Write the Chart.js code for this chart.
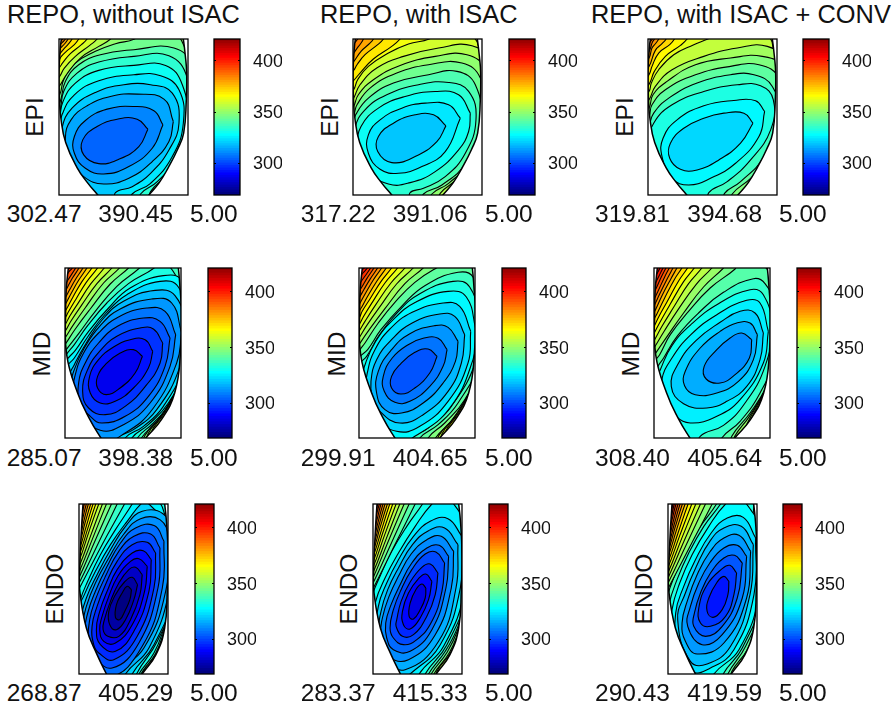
<!DOCTYPE html>
<html>
<head>
<meta charset="utf-8">
<style>
html, body { margin: 0; padding: 0; background: #fff; overflow: hidden; }
canvas { position: absolute; }
.t { position: absolute; font-family: "Liberation Sans", Arial, sans-serif; color: #111; line-height: 1; white-space: nowrap; }
</style>
<script src="https://cdn.jsdelivr.net/npm/chart.js@4"></script>
</head>
<body>
<script>
// text
const colTitles = ['REPO, without ISAC', 'REPO, with ISAC', 'REPO, with ISAC + CONV'];
const rowNames = ['EPI', 'MID', 'ENDO'];
const minVals = [302.47, 317.22, 319.81, 285.07, 299.91, 308.40, 268.87, 283.37, 290.43];
const maxVals = [390.45, 391.06, 394.68, 398.38, 404.65, 405.64, 405.29, 415.33, 419.59];
const stepVal = 5;

// colour bar
const barTicks = [300, 350, 400];
const barLevels = [268.5,270.9,273.3,275.6,278,280.4,282.8,285.2,287.6,289.9,292.3,294.7,297.1,299.5,301.9,304.2,306.6,309,311.4,313.8,316.2,318.5,320.9,323.3,325.7,328.1,330.5,332.8,335.2,337.6,340,342.4,344.8,347.1,349.5,351.9,354.3,356.7,359.1,361.4,363.8,366.2,368.6,371,373.4,375.7,378.1,380.5,382.9,385.3,387.7,390,392.4,394.8,397.2,399.6,402,404.3,406.7,409.1,411.5,413.9,416.3,418.6,421];

// contour lines, inner to outer: x,y,x,y...
const p1Low = [
 [442,388,410,358,350,358,290,380,247,420,250,465,295,491,355,478,415,440],
 [487,375,460,333,400,320,320,328,255,362,222,410,222,460,255,505,310,522,385,500,455,445],
 [518,365,490,298,410,283,330,290,260,318,212,360,195,415,208,475,250,530,310,552,385,535,455,485,505,425],
 [345,610,345,578,395,560,450,520,505,450,535,370,515,280,450,255,370,255,285,278,215,325,185,385,187,445,215,520,265,610],
 [385,610,395,582,450,550,515,470,548,370,535,270,480,228,400,225,295,243,222,285,185,345,178,390,180,450,220,600],
 [420,610,420,582,470,545,530,470,560,370,545,255,495,197,400,197,295,212,225,250,188,305,176,360,150,420,200,610],
 [445,610,450,575,500,520,570,380,560,235,505,168,400,170,295,187,230,220,190,275,178,335,150,380,200,620],
 [470,600,530,530,590,350,575,200,520,145,400,150,300,165,235,195,195,245,178,310,150,350,250,640],
 [640,400,600,200,557,150,540,118,520,90,430,90,402,118,345,132,285,155,225,190,190,240,178,285,150,320,250,650,520,660]
];
const p1High = [
 [338,100,330,118,295,140,240,175,198,225,178,258,150,290,100,40],
 [298,100,290,118,268,137,225,170,192,205,178,230,150,262,100,40],
 [268,100,260,118,243,135,210,162,188,188,176,205,150,235,100,40],
 [243,100,235,118,222,135,198,155,183,170,176,182,150,212,100,40],
 [222,100,215,118,205,132,190,148,176,165,150,195,100,40],
 [210,100,203,118,195,130,176,150,150,180,100,40],
 [202,100,195,118,186,128,172,140,150,165,100,40],
 [195,100,187,118,178,128,150,150,100,40]
];
const p2Low = [
 [452,378,415,345,360,345,295,370,250,410,248,455,290,488,360,470,425,425],
 [495,355,460,315,390,310,320,325,255,360,220,405,220,460,255,508,310,520,380,500,450,455],
 [525,340,490,285,420,275,330,290,250,325,198,380,190,435,215,510,280,552,345,548,420,515,490,450,520,395],
 [345,610,345,578,385,565,450,530,510,460,542,360,520,275,460,248,370,255,275,285,210,330,180,385,182,450,220,610],
 [380,610,385,582,440,555,510,490,555,370,540,255,485,215,400,225,295,250,220,295,182,345,174,375,150,450,200,620],
 [405,610,410,582,460,550,530,480,575,360,555,235,500,190,400,195,305,220,225,265,186,315,176,345,140,410,200,630],
 [430,610,435,580,490,530,590,350,570,210,515,165,420,170,315,197,235,240,190,285,176,320,140,375,220,640],
 [455,605,540,500,610,340,590,190,530,138,430,145,325,170,245,205,195,255,176,295,140,350,240,650],
 [640,400,600,180,555,150,540,118,500,95,430,95,402,118,340,133,280,160,220,200,188,240,176,270,140,320,250,660,520,660]
];
const p2High = [
 [325,100,315,118,290,140,235,178,195,220,178,240,150,270,100,40],
 [272,100,265,118,248,135,210,165,186,195,176,212,150,240,100,40],
 [240,100,235,118,222,133,198,155,176,186,150,215,100,40],
 [210,100,205,118,196,133,186,146,176,160,150,190,100,40],
 [195,100,188,118,180,128,172,138,150,165,100,40]
];
const p3Low = [
 [487,370,460,340,400,340,340,355,280,385,240,430,238,475,270,508,320,510,385,480,450,430],
 [522,335,495,303,430,302,340,318,260,360,218,415,215,470,245,535,295,555,360,535,435,490,505,410],
 [355,610,355,578,410,545,480,480,540,390,548,300,510,258,440,255,340,275,245,315,190,370,175,430,190,520,260,610],
 [402,610,402,580,450,545,520,470,565,350,545,260,490,225,420,225,320,250,235,295,190,340,176,380,155,440,200,620],
 [425,610,425,582,480,535,545,460,580,340,565,235,505,195,420,200,315,225,225,270,185,315,176,350,140,410,210,630],
 [445,600,510,520,595,330,580,205,515,170,420,175,315,195,230,245,188,285,176,325,130,390,230,640],
 [465,610,540,500,610,320,590,190,530,140,440,145,340,170,245,210,195,260,176,300,130,360,250,650],
 [640,400,595,200,553,165,540,118,500,95,400,95,352,118,310,135,250,165,205,210,183,250,176,275,130,330,250,660,520,660]
];
const p3High = [
 [298,100,290,118,270,137,225,170,192,215,178,250,150,285,100,40],
 [258,100,252,118,238,135,205,160,185,200,176,225,150,255,100,40],
 [232,100,227,118,215,132,195,152,176,200,150,230,100,40],
 [212,100,205,118,197,130,185,145,176,175,150,205,100,40],
 [198,100,192,118,186,128,176,155,150,185,100,40],
 [192,100,186,118,180,126,172,138,150,165,100,40]
];
const p4Low = [
 [427,290,400,270,360,280,318,312,292,350,292,385,318,405,360,385,405,340],
 [458,275,435,240,390,240,340,262,295,300,268,350,270,400,300,430,345,425,400,385,445,325],
 [488,250,460,208,420,205,350,230,298,275,262,330,247,395,265,445,315,465,375,440,440,375,480,310],
 [510,235,480,185,430,175,352,200,295,250,255,310,235,370,240,430,270,470,305,490,375,470,445,410,495,320],
 [527,225,495,155,440,145,355,172,295,220,250,280,225,345,220,395,245,460,300,512,370,495,450,430,510,320],
 [545,220,515,130,455,118,360,148,300,198,252,265,222,330,212,380,235,450,300,545,375,520,460,445,530,310],
 [340,570,350,535,400,510,470,450,540,320,555,205,525,108,465,92,370,125,308,178,258,250,222,315,205,355,210,480,280,570],
 [370,570,375,535,430,500,490,440,555,310,565,190,535,82,480,65,380,105,318,160,262,232,222,295,196,325,170,400,220,570],
 [390,570,395,535,445,495,505,430,570,300,575,170,545,62,490,48,390,85,325,145,265,215,225,272,196,305,170,360,230,570],
 [410,570,412,535,460,490,520,420,590,280,585,130,535,60,512,25,490,5,470,8,462,25,385,72,320,130,262,198,222,255,196,288,170,340,240,570]
];
const p4High = [
 [428,10,418,25,350,80,285,155,235,222,196,272,170,310,100,-40],
 [395,10,385,25,330,73,270,148,225,208,196,252,170,290,100,-40],
 [366,10,358,25,310,70,258,140,218,197,196,232,170,270,100,-40],
 [343,10,335,25,290,72,245,135,212,184,196,212,170,250,100,-40],
 [320,10,312,25,272,72,235,128,208,170,196,192,170,230,100,-40],
 [300,10,292,25,258,68,226,120,204,157,196,172,170,210,100,-40],
 [283,10,275,25,245,66,218,112,202,142,196,152,170,190,100,-40],
 [268,10,260,25,235,62,212,102,196,132,170,170,100,-40],
 [255,10,248,25,225,60,207,92,196,112,170,150,100,-40],
 [243,10,236,25,216,56,203,80,196,92,170,130,100,-40],
 [233,10,226,25,208,53,196,72,170,110,100,-40],
 [223,10,216,25,204,38,196,53,170,90,100,-40],
 [215,10,208,25,196,35,170,60,100,-40]
];
const p4Corner = [
 [420,560,424,535,470,485,520,410,560,290,620,600],
 [430,560,434,528,478,475,525,400,560,300,620,600],
 [440,560,444,522,485,468,528,395,560,310,620,600],
 [450,560,452,520,492,462,530,395,560,325,620,600]
];
const p5Low = [
 [427,290,400,268,360,278,318,312,290,350,290,385,318,403,360,385,405,340],
 [457,270,430,236,385,236,340,255,292,295,265,350,268,395,300,428,345,425,405,380,445,320],
 [490,245,460,203,420,198,345,222,290,270,250,335,245,400,270,450,320,460,385,430,445,370,482,305],
 [510,225,480,170,435,163,352,190,290,240,245,300,228,365,232,410,255,455,315,490,385,465,460,395,500,310],
 [528,215,495,140,445,130,352,158,285,208,240,270,218,335,214,390,240,470,305,515,375,500,460,425,520,310],
 [545,215,515,112,460,95,362,128,295,180,242,245,212,310,203,355,230,470,300,550,360,530,465,445,535,300],
 [350,570,352,535,400,505,470,440,545,300,555,190,525,82,475,65,375,102,308,158,252,228,215,290,194,312,165,370,210,490,285,570],
 [372,570,375,535,430,495,490,430,560,295,570,170,535,52,490,38,390,78,320,140,258,210,218,270,194,292,165,345,230,570],
 [398,570,400,535,450,490,510,420,575,285,590,150,560,10,480,0,425,25,360,68,300,128,250,190,210,250,194,272,170,320,230,570]
];
const p5High = [
 [395,10,385,25,330,72,270,147,225,207,194,252,170,290,100,-40],
 [363,10,355,25,305,73,255,141,215,198,194,232,170,270,100,-40],
 [338,10,330,25,288,70,243,134,210,185,194,212,170,250,100,-40],
 [316,10,308,25,270,70,232,128,206,170,194,192,170,230,100,-40],
 [298,10,290,25,258,66,225,118,202,154,194,172,170,210,100,-40],
 [282,10,274,25,246,64,218,110,200,143,194,152,170,190,100,-40],
 [268,10,260,25,235,61,212,100,194,132,170,170,100,-40],
 [256,10,248,25,225,59,206,91,194,112,170,150,100,-40],
 [245,10,237,25,216,56,202,80,194,92,170,130,100,-40],
 [235,10,227,25,208,52,194,72,170,110,100,-40],
 [225,10,217,25,204,40,194,52,170,90,100,-40],
 [216,10,208,25,194,35,170,60,100,-40]
];
const p5Corner = [
 [418,560,422,535,470,485,520,410,560,290,620,600],
 [428,560,432,528,476,475,523,400,560,300,620,600],
 [438,560,442,522,483,468,526,395,560,310,620,600],
 [448,560,450,520,490,462,528,395,560,325,620,600]
];
const p6Low = [
 [485,240,455,220,420,235,380,270,342,320,348,358,390,370,435,345,478,295],
 [502,225,480,190,440,190,390,215,330,265,285,335,283,378,315,405,380,400,445,365,490,300],
 [520,220,495,160,450,155,390,188,318,242,265,310,243,380,280,432,350,445,410,425,470,380,510,300],
 [535,215,510,130,470,122,380,165,302,225,245,295,214,362,218,430,250,465,300,490,380,470,450,420,520,310],
 [325,570,330,530,400,497,465,430,525,320,545,200,520,105,480,90,385,132,305,192,245,258,210,330,195,370,205,480,270,570],
 [390,570,395,535,450,485,510,400,555,290,560,150,525,72,490,57,400,98,325,160,262,228,220,295,195,340,205,470,230,570],
 [420,570,425,530,480,460,530,380,575,260,575,100,528,25,490,5,440,15,435,28,360,85,295,155,240,225,208,285,193,305,165,370,240,570]
];
const p6High = [
 [410,10,400,25,340,82,280,160,230,231,193,285,170,320,100,-40],
 [373,10,365,25,318,74,262,152,222,214,193,262,170,300,100,-40],
 [343,10,335,25,295,72,250,143,215,200,193,240,170,280,100,-40],
 [320,10,312,25,280,66,240,133,208,189,193,218,170,260,100,-40],
 [300,10,292,25,265,64,230,127,205,172,193,197,170,240,100,-40],
 [283,10,275,25,252,60,222,117,200,162,193,175,170,220,100,-40],
 [268,10,260,25,242,57,215,108,198,145,193,155,170,200,100,-40],
 [256,10,248,25,232,55,208,103,193,135,170,180,100,-40],
 [245,10,237,25,222,54,202,97,193,115,170,160,100,-40],
 [235,10,227,25,214,50,198,85,193,95,170,140,100,-40],
 [226,10,218,25,206,49,193,75,170,120,100,-40],
 [217,10,209,25,199,44,193,55,170,95,100,-40],
 [209,10,201,25,193,35,170,65,100,-40]
];
const p6Corner = [
 [430,560,434,530,478,470,525,390,560,300,620,600],
 [445,545,485,465,528,390,560,320,620,600],
 [455,545,492,460,530,390,560,340,620,600]
];
const p7Low = [
 [393,285,380,275,365,295,348,330,345,368,358,375,375,345,388,315],
 [411,270,395,248,372,262,345,300,325,350,328,390,348,405,375,375,400,315],
 [425,240,405,218,385,225,355,265,330,320,312,375,308,405,322,425,355,425,390,375,418,300],
 [440,215,415,192,390,200,352,245,325,305,305,365,298,405,310,440,345,445,395,390,432,290],
 [452,195,428,168,395,175,350,225,320,290,298,350,288,405,300,450,345,470,400,410,445,290],
 [465,175,440,143,395,150,350,200,315,270,290,335,275,395,280,450,295,475,340,495,410,425,460,280],
 [478,160,450,118,400,125,355,170,315,245,285,315,268,375,265,445,278,480,335,520,415,445,472,280],
 [490,140,462,93,405,100,360,145,320,215,285,290,262,355,252,420,265,470,330,545,425,455,485,280],
 [345,570,347,538,430,460,495,290,503,130,478,75,420,72,370,118,325,190,285,265,258,335,245,400,250,450,300,560],
 [372,570,375,538,445,460,505,290,515,120,488,58,425,50,375,95,330,165,290,240,258,310,238,385,240,430,290,570],
 [392,570,395,538,460,450,525,280,520,120,490,75,445,28,430,20,380,80,330,150,285,230,252,300,232,360,300,570],
 [405,570,408,538,470,440,535,270,530,110,497,70,480,28,450,5,400,15,395,28,345,105,300,180,262,260,240,315,225,380,310,570]
];
const p7High = [
 [380,10,372,28,305,150,238,279,215,320,150,-60],
 [358,10,350,28,294,145,238,262,215,305,150,-60],
 [341,10,333,28,285,136,238,245,215,290,150,-60],
 [326,10,318,28,278,128,238,228,215,270,150,-60],
 [314,10,306,28,272,120,238,211,215,255,150,-60],
 [303,10,295,28,266,110,238,194,215,240,150,-60],
 [294,10,286,28,262,102,238,177,215,220,150,-60],
 [286,10,278,28,258,94,238,160,215,205,150,-60],
 [279,10,271,28,254,85,238,143,215,190,150,-60],
 [272,10,264,28,251,77,238,126,215,170,150,-60],
 [266,10,258,28,248,68,238,109,215,150,150,-60],
 [260,10,252,28,245,60,238,92,215,135,150,-60],
 [255,10,247,28,242,50,238,75,215,115,150,-60],
 [251,10,243,28,236,58,215,95,150,-60],
 [248,10,240,28,234,41,215,70,150,-60]
];
const p7Corner = [
 [412,560,415,538,460,475,490,400,515,310,560,620],
 [418,560,421,538,464,478,492,405,515,330,560,620],
 [425,560,428,530,468,475,495,405,515,345,560,620],
 [430,550,436,535,472,472,497,410,515,360,560,620],
 [440,545,476,472,499,415,515,375,560,620],
 [450,545,480,468,501,420,515,390,560,620]
];
const p8Low = [
 [392,280,380,268,362,285,345,325,342,365,355,373,375,345,390,310],
 [410,260,392,238,370,252,340,295,322,350,325,390,345,403,375,370,400,315],
 [428,235,405,208,380,218,345,262,318,320,305,375,303,395,322,425,355,420,395,365,420,300],
 [448,205,422,172,390,178,350,225,318,285,295,345,285,400,295,430,325,450,365,435,410,380,440,290],
 [460,185,432,152,395,160,350,205,315,270,288,330,272,385,275,430,295,465,345,470,410,405,452,280],
 [475,170,438,125,395,135,348,178,310,245,282,305,262,370,258,420,282,485,340,495,420,420,468,280],
 [488,150,448,100,400,108,352,150,310,220,278,285,258,350,250,420,270,490,330,525,430,440,482,280],
 [500,125,458,72,405,80,355,125,310,195,275,265,250,335,245,430,300,570,345,538,435,450,495,280],
 [372,570,372,538,445,455,510,280,515,110,475,28,440,10,410,28,360,95,310,175,270,250,242,320,232,400,300,570],
 [388,570,390,538,455,450,520,280,530,100,495,55,490,28,460,5,390,10,382,28,335,95,290,170,255,245,230,310,225,380,300,570]
];
const p8High = [
 [368,10,360,28,297,155,234,282,210,325,150,-60],
 [350,10,342,28,288,147,234,266,210,310,150,-60],
 [335,10,327,28,280,139,234,250,210,295,150,-60],
 [322,10,314,28,274,131,234,234,210,275,150,-60],
 [311,10,303,28,268,123,234,218,210,260,150,-60],
 [301,10,293,28,263,115,234,202,210,245,150,-60],
 [292,10,284,28,259,107,234,186,210,230,150,-60],
 [285,10,277,28,255,99,234,170,210,215,150,-60],
 [278,10,270,28,252,91,234,154,210,195,150,-60],
 [272,10,264,28,249,83,234,138,210,180,150,-60],
 [266,10,258,28,246,75,234,122,210,165,150,-60],
 [261,10,253,28,243,67,234,106,210,150,150,-60],
 [256,10,248,28,241,59,232,90,210,130,150,-60],
 [252,10,244,28,230,74,210,115,150,-60],
 [249,10,241,28,228,58,210,100,150,-60],
 [246,10,238,28,226,42,210,80,150,-60]
];
const p8Corner = [
 [398,560,400,538,450,470,488,395,515,300,560,620],
 [406,560,408,538,456,472,490,400,515,320,560,620],
 [414,560,416,538,462,474,492,405,515,340,560,620],
 [422,560,425,530,466,474,494,410,515,360,560,620],
 [435,545,470,472,496,415,515,375,560,620],
 [445,545,476,470,498,420,515,390,560,620]
];
const p9Low = [
 [415,260,400,245,380,262,355,310,350,350,368,368,395,345,412,300],
 [438,235,418,212,395,222,350,270,325,340,330,385,360,395,405,365,430,300],
 [455,205,432,182,400,190,360,235,330,295,312,355,310,395,345,425,395,395,440,310],
 [468,185,440,152,400,160,358,205,325,265,300,335,292,395,335,450,395,420,455,310],
 [480,170,445,122,400,130,358,172,320,240,292,315,275,385,285,440,320,478,400,445,468,310],
 [488,150,452,95,400,100,358,140,318,215,285,295,262,375,300,500,350,508,420,455,478,300],
 [495,130,458,68,410,70,362,115,315,195,280,275,256,355,262,460,300,530,360,520,430,465,490,300],
 [365,570,370,538,445,465,505,300,510,110,480,45,440,10,405,28,355,95,305,180,268,265,245,345,240,430,300,570],
 [395,570,398,538,455,460,515,300,515,100,490,55,488,28,470,5,400,5,390,28,340,95,295,175,260,255,236,330,228,410,295,570],
 [410,570,412,538,465,455,525,300,535,80,500,10,385,5,378,28,330,95,285,170,252,245,228,315,215,390,295,570]
];
const p9High = [
 [373,10,365,28,299,155,233,282,210,325,150,-60],
 [353,10,345,28,289,147,233,266,210,310,150,-60],
 [338,10,330,28,281,139,233,250,210,295,150,-60],
 [324,10,316,28,274,131,233,234,210,275,150,-60],
 [312,10,304,28,268,123,233,218,210,260,150,-60],
 [301,10,293,28,263,115,233,202,210,245,150,-60],
 [292,10,284,28,258,107,233,186,210,230,150,-60],
 [284,10,276,28,254,99,233,170,210,215,150,-60],
 [277,10,269,28,251,91,233,154,210,195,150,-60],
 [271,10,263,28,248,83,233,138,210,180,150,-60],
 [265,10,257,28,245,75,233,122,210,165,150,-60],
 [260,10,252,28,243,67,233,106,210,150,150,-60],
 [256,10,248,28,240,59,231,90,210,130,150,-60],
 [252,10,244,28,229,74,210,115,150,-60],
 [249,10,241,28,227,58,210,100,150,-60],
 [246,10,238,28,225,42,210,80,150,-60]
];
const p9Corner = [
 [420,560,424,530,470,465,495,400,515,320,560,620],
 [432,545,474,465,497,405,515,340,560,620],
 [442,545,478,465,499,410,515,360,560,620]
];

// outline of the section, measured from the box corner, one pair per row
const maskLeft = [
 [12,-20,7,0,3,40,0,100,1,170,6,240,20,310,54,385,85,430,116,467,135,490,-60,510,-60,-40],
 [12,-20,10,0,4,60,2,125,5,260,38,375,75,455,108,510,125,535,-60,560,-60,-40],
 [14,-20,12,0,6,100,2,200,2,257,22,372,54,452,82,510,95,535,-60,560,-60,-40]
];
const maskRight = [
 [250,490,269,467,300,430,327,385,355,330,373,282,381,182,382,100,378,50,372,0,368,-20,450,-40,450,510],
 [225,535,243,510,290,455,330,375,347,260,350,125,346,60,341,0,337,-20,410,-40,410,560],
 [175,535,189,510,230,452,256,372,264,257,266,150,262,60,256,0,252,-20,330,-40,330,560]
];

// picture geometry
const colLeft = [[59,353,648],[65,359,654],[79,373,668]];
const barLeft = [[214,509,803],[208,502,797],[195,489,783]];
const rowTop = [39,268,504];
const rowW = [129,116,89];
const rowH = [156,170,170];
const barW = [26,24,19];
const xStart = [[176,174,173],[194,192,191],[236,234,233]];
const xSpan = [386,349,266];
const yRange = [[118,585],[25,535],[28,538]];

const lowSets = [p1Low,p2Low,p3Low,p4Low,p5Low,p6Low,p7Low,p8Low,p9Low];
const highSets = [p1High,p2High,p3High,p4High,p5High,p6High,p7High,p8High,p9High];
const cornerSets = [[],[],[],p4Corner,p5Corner,p6Corner,p7Corner,p8Corner,p9Corner];

function jet(v) {
  const t = Math.min(1, Math.max(0, (v - 268.5) / 152.5));
  const c = d => Math.round(255 * Math.min(1, Math.max(0, 1.5 - Math.abs(4 * t - d))));
  return `rgb(${c(3)},${c(2)},${c(1)})`;
}

function toPts(a, dx, dy) {
  const out = [];
  for (let i = 0; i < a.length; i += 2) out.push({ x: a[i] + (dx || 0), y: a[i + 1] + (dy || 0) });
  return out;
}

function lineSet(data, fillCol, width) {
  return { data, backgroundColor: fillCol, borderColor: '#000', borderWidth: width, fill: 'shape', pointRadius: 0, tension: 0.45 };
}

const frame = {
  id: 'frame',
  afterDraw(chart) {
    const a = chart.chartArea, c = chart.ctx;
    c.save();
    c.strokeStyle = '#000';
    c.lineWidth = 1.3;
    c.strokeRect(a.left, a.top, a.right - a.left, a.bottom - a.top);
    c.restore();
  }
};

const bandFill = {
  id: 'bandFill',
  beforeDatasetsDraw(chart, args, opts) {
    const a = chart.chartArea, c = chart.ctx;
    c.save();
    c.fillStyle = opts.color;
    c.fillRect(a.left, a.top, a.right - a.left, a.bottom - a.top);
    c.restore();
  }
};

// little marks inside the colour bar, on both sides
const barMarks = {
  id: 'barMarks',
  afterDraw(chart) {
    const a = chart.chartArea, c = chart.ctx, s = chart.scales.y;
    c.save();
    c.strokeStyle = '#000';
    c.lineWidth = 1;
    barTicks.forEach(v => {
      const y = Math.round(s.getPixelForValue(v)) + 0.5;
      c.beginPath();
      c.moveTo(a.left, y); c.lineTo(a.left + 2, y);
      c.moveTo(a.right - 2, y); c.lineTo(a.right, y);
      c.stroke();
    });
    c.restore();
  }
};

function addCanvas(left, top, w, h) {
  const cv = document.createElement('canvas');
  cv.width = w; cv.height = h;
  cv.style.left = left + 'px';
  cv.style.top = top + 'px';
  cv.style.width = w + 'px';
  cv.style.height = h + 'px';
  document.body.appendChild(cv);
  return cv;
}

function addText(str, left, baseline, size) {
  const d = document.createElement('div');
  d.className = 't';
  d.textContent = str;
  d.style.fontSize = size + 'px';
  d.style.left = left + 'px';
  d.style.top = (baseline - 0.83 * size) + 'px';
  document.body.appendChild(d);
}

function addSideText(str, cx, cy, size) {
  const d = document.createElement('div');
  d.className = 't';
  d.textContent = str;
  d.style.fontSize = size + 'px';
  d.style.left = cx + 'px';
  d.style.top = cy + 'px';
  d.style.transform = 'translate(-50%,-50%) rotate(-90deg)';
  document.body.appendChild(d);
}

function drawPanel(row, col) {
  const n = row * 3 + col;
  const low = lowSets[n], high = highSets[n], corner = cornerSets[n], base = minVals[n];
  const band = k => jet(base + stepVal * k);
  const x0 = xStart[row][col], pad = 2;
  const paint = [];
  low.slice().reverse().forEach((a, i) => {
    const p = toPts(a);
    p.push(p[0]);
    paint.push(lineSet(p, band(low.length - 1 - i), 1.1));
  });
  corner.forEach((a, i) => paint.push(lineSet(toPts(a), band(low.length + 1 + i), 1.1)));
  high.forEach((a, i) => paint.push(lineSet(toPts(a), band(low.length + 1 + i), 1.1)));
  paint.push(lineSet(toPts(maskLeft[row], x0, yRange[row][0]), '#fff', 1.5));
  paint.push(lineSet(toPts(maskRight[row], x0, yRange[row][0]), '#fff', 1.5));

  const cv = addCanvas(colLeft[row][col] - pad, rowTop[row] - pad, rowW[row] + pad * 2, rowH[row] + pad * 2);
  new Chart(cv, {
    type: 'line',
    data: { datasets: paint.reverse() },
    options: {
      responsive: false,
      animation: false,
      events: [],
      layout: { padding: pad },
      elements: { line: { capBezierPoints: false } },
      plugins: { legend: { display: false }, tooltip: { enabled: false }, bandFill: { color: band(low.length) } },
      scales: {
        x: { type: 'linear', display: false, min: x0, max: x0 + xSpan[row] },
        y: { type: 'linear', display: false, reverse: true, min: yRange[row][0], max: yRange[row][1] }
      }
    },
    plugins: [bandFill, frame]
  });
}

function drawBar(row, col) {
  const pad = 12, axisW = 42;
  const cv = addCanvas(barLeft[row][col] - 2, rowTop[row] - pad, barW[row] + 2 + axisW, rowH[row] + pad * 2);
  const sets = [];
  for (let i = 0; i < barLevels.length - 1; i++) {
    sets.push({ data: [[barLevels[i], barLevels[i + 1] + 0.3]], backgroundColor: jet(barLevels[i]), borderWidth: 0, barPercentage: 1, categoryPercentage: 1 });
  }
  new Chart(cv, {
    type: 'bar',
    data: { labels: [''], datasets: sets },
    options: {
      responsive: false,
      animation: false,
      events: [],
      layout: { padding: { top: pad, bottom: pad, left: 2, right: 0 } },
      plugins: { legend: { display: false }, tooltip: { enabled: false } },
      scales: {
        x: { display: false, stacked: false, grid: { display: false } },
        y: {
          position: 'right',
          min: barLevels[0],
          max: barLevels[barLevels.length - 1],
          afterBuildTicks: s => { s.ticks = barTicks.map(v => ({ value: v })); },
          afterFit: s => { s.width = axisW; s.paddingTop = 0; s.paddingBottom = 0; },
          grid: { display: false },
          border: { display: false },
          ticks: { color: '#111', padding: 5, labelOffset: 1.5, font: { family: 'Liberation Sans', size: 18 } }
        }
      },
      datasets: { bar: { grouped: false } }
    },
    plugins: [frame, barMarks]
  });
}

// text positions
const titleX = [7, 320, 591];
const statX = [[6.7, 98.3, 190], [300.7, 392.7, 485], [595, 687.3, 779]];
const statBase = [222.7, 466, 701.7];
const sideX = [[35, 330, 625], [41.7, 336.7, 630.7], [55, 349.3, 644]];
const sideY = [117, 353.7, 589];

colTitles.forEach((s, c) => addText(s, titleX[c], 23, 25.4));
for (let r = 0; r < 3; r++) {
  for (let c = 0; c < 3; c++) {
    drawPanel(r, c);
    drawBar(r, c);
    const n = r * 3 + c;
    addText(minVals[n].toFixed(2), statX[c][0], statBase[r], 24.5);
    addText(maxVals[n].toFixed(2), statX[c][1], statBase[r], 24.5);
    addText(stepVal.toFixed(2), statX[c][2], statBase[r], 24.5);
    addSideText(rowNames[r], sideX[r][c], sideY[r], 24.5);
  }
}
</script>
</body>
</html>
